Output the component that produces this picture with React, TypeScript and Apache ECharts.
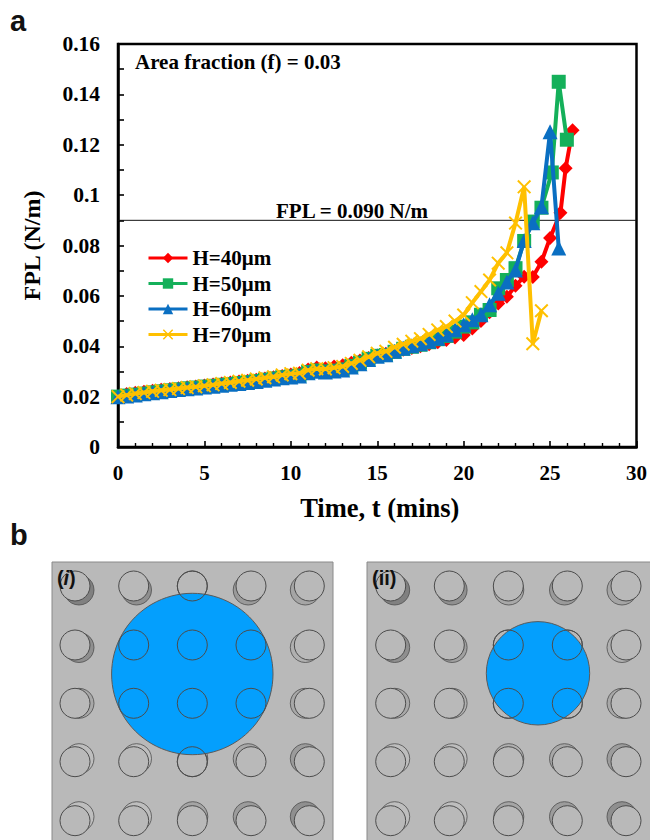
import React, { useEffect, useRef } from "react";
import * as echarts from "echarts";

const times = [0,0.5,1,1.5,2,2.5,3,3.5,4,4.5,5,5.5,6,6.5,7,7.5,8,8.5,9,9.5,10,10.5,11,11.5,12,12.5,13,13.5,14,14.5,15,15.5,16,16.5,17,17.5,18,18.5,19,19.5,20,20.5,21,21.5,22,22.5,23,23.5,24,24.5];
const tail40 = [25,25.6,25.9,26.3];
const tail50 = [25.1,25.5,25.97];
const tail60 = [25,25.5];
const tail70: number[] = [];
const h40 = [.0200,.0210,.0215,.0219,.0223,.0227,.0230,.0233,.0237,.0240,.0244,.0248,.0252,.0256,.0260,.0263,.0267,.0272,.0277,.0282,.0288,.0294,.0308,.0316,.0313,.0320,.0325,.0334,.0343,.0353,.0363,.0370,.0378,.0386,.0393,.0400,.0408,.0416,.0425,.0435,.0445,.0470,.0500,.0535,.0570,.0597,.0640,.0676,.0675,.0735,.0830,.0930,.1107,.1258];
const h50 = [.0200,.0204,.0208,.0212,.0217,.0221,.0225,.0229,.0233,.0236,.0240,.0243,.0247,.0250,.0254,.0258,.0262,.0267,.0272,.0277,.0280,.0284,.0298,.0304,.0300,.0303,.0308,.0322,.0335,.0350,.0362,.0365,.0378,.0390,.0398,.0406,.0416,.0428,.0441,.0458,.0478,.0495,.0525,.0544,.0630,.0663,.0710,.0818,.0895,.0950,.1090,.1450,.1220];
const h60 = [.0200,.0202,.0206,.0211,.0215,.0219,.0224,.0228,.0231,.0234,.0238,.0241,.0245,.0249,.0252,.0256,.0260,.0265,.0270,.0275,.0278,.0282,.0295,.0301,.0298,.0302,.0306,.0318,.0331,.0347,.0360,.0366,.0380,.0392,.0402,.0410,.0420,.0432,.0446,.0466,.0485,.0505,.0525,.0565,.0610,.0655,.0703,.0820,.0890,.0954,.1252,.0790];
const h70 = [.0200,.0206,.0212,.0216,.0221,.0225,.0228,.0232,.0236,.0239,.0243,.0247,.0252,.0256,.0261,.0265,.0270,.0275,.0279,.0286,.0291,.0293,.0305,.0311,.0310,.0315,.0320,.0332,.0344,.0358,.0372,.0380,.0396,.0408,.0420,.0430,.0447,.0465,.0478,.0500,.0524,.0573,.0617,.0663,.0730,.0771,.0889,.1033,.0410,.0541];
const threshold = 0.09;
const seriesNames = ["H=40μm","H=50μm","H=60μm","H=70μm"];
const colors = ["#fe0000","#14b05a","#0a6fc2","#ffc000"];
const pillarCols1 = [75,133.7,192.3,251,309.3];
const pillarCols2 = [390.7,449.3,508.3,567.3,626];
const pillarRows = [586,645,703.3,761.7,820.7];
const backDx = [4,2.8,0.5,-2.8,-4];
const backDy = [4,2.5,0,-3,-4];
const shadeRows = [
  ["#808080","#8f8f8f","#a8a8a8","#9a9a9a","#a5a5a5"],
  ["#8f8f8f","#a0a0a0","#b9b9b9","#b9b9b9","#b0b0b0"],
  ["#a8a8a8","#b0b0b0","#b9b9b9","#b9b9b9","#a8a8a8"],
  ["#bebebe","#bebebe","#b0b0b0","#a8a8a8","#9c9c9c"],
  ["#bebebe","#bebebe","#a5a5a5","#9c9c9c","#8f8f8f"],
];

const pairs = (t: number[], v: number[]) => t.map((x, i) => [x, v[i]]);
const serif = "'Liberation Serif', serif";
const sans = "'Liberation Sans', sans-serif";
const xMark = "path://M1,0 L5,4 L9,0 L10,1 L6,5 L10,9 L9,10 L5,6 L1,10 L0,9 L4,5 L0,1 Z";

const panel = (cols: number[], left: number, width: number, bx: number, by: number, br: number, label: string, lx: number, hidden: (c: number, r: number) => boolean, isItalic: boolean) => {
  const els: any[] = [{ type: "rect", shape: { x: left, y: 562, width, height: 290 }, style: { fill: "#b9b9b9", stroke: "#8a8a8a", lineWidth: 1 } }];
  const ring = "#4c4c4c";
  pillarRows.forEach((y, r) => cols.forEach((x, c) => {
    if (!hidden(c, r)) {
      els.push({ type: "circle", shape: { cx: x + backDx[c], cy: y + backDy[r], r: 15 }, style: { fill: shadeRows[r][c], stroke: ring, lineWidth: 0.8 } });
    }
    els.push({ type: "circle", shape: { cx: x, cy: y, r: 15 }, style: { fill: "#b9b9b9", stroke: ring, lineWidth: 1 } });
  }));
  els.push({ type: "circle", shape: { cx: bx, cy: by, r: br }, style: { fill: "#049ffd", stroke: "#5a5a5a", lineWidth: 1 } });
  pillarRows.forEach((y, r) => cols.forEach((x, c) => {
    const d = Math.hypot(x - bx, y - by);
    if (d < br + 15) els.push({ type: "circle", shape: { cx: x, cy: y, r: 15 }, style: { fill: "transparent", stroke: ring, lineWidth: 1 } });
  }));
  if (isItalic) {
    els.push({ type: "text", x: lx, y: 568, style: { text: "(", font: `bold 20px ${sans}`, fill: "#111" } });
    els.push({ type: "text", x: lx + 6.5, y: 568, style: { text: "i", font: `italic bold 20px ${sans}`, fill: "#111" } });
    els.push({ type: "text", x: lx + 12, y: 568, style: { text: ")", font: `bold 20px ${sans}`, fill: "#111" } });
  } else {
    els.push({ type: "text", x: lx, y: 568, style: { text: label, font: `bold 20px ${sans}`, fill: "#111" } });
  }
  return els;
};

export default function App() {
  const ref = useRef<HTMLDivElement>(null);
  useEffect(() => {
    const chart = echarts.init(ref.current!, undefined, { renderer: "svg" });
    const mk = (i: number, data: number[][], symbol: string, size: number) => ({
      name: seriesNames[i], type: "line", data, symbol, symbolSize: size, showSymbol: true,
      lineStyle: { color: colors[i], width: 4 },
      itemStyle: { color: colors[i] }, z: 3 + i,
    });
    chart.setOption({
      animation: false,
      backgroundColor: "#fff",
      grid: { left: 118, right: 13, top: 44, height: 403, show: true, borderColor: "#000", borderWidth: 2.5, backgroundColor: "transparent" },
      legend: {
        left: 147, top: 247.5, orient: "vertical", itemWidth: 39, itemHeight: 13, itemGap: 4.5, selectedMode: false,
        data: seriesNames,
        lineStyle: { width: 3 },
        textStyle: { fontFamily: serif, fontWeight: "bold", fontSize: 21, color: "#000" },
        padding: 0,
      },
      xAxis: {
        type: "value", min: 0, max: 30, interval: 5,
        name: "Time, t (mins)", nameLocation: "middle", nameGap: 47,
        nameTextStyle: { fontFamily: serif, fontWeight: "bold", fontSize: 26.5, color: "#000", padding: [0, 0, 0, 5] },
        axisLine: { show: true, lineStyle: { color: "#000", width: 2.5 } },
        axisTick: { show: true, inside: true, length: 6, lineStyle: { color: "#000", width: 1.6 } },
        minorTick: { show: true, splitNumber: 5, length: 4, lineStyle: { color: "#000", width: 1.4 } },
        splitLine: { show: false },
        axisLabel: { fontFamily: serif, fontWeight: "bold", fontSize: 21, color: "#000", margin: 15 },
      },
      yAxis: {
        type: "value", min: 0, max: 0.16, interval: 0.02,
        name: "FPL (N/m)", nameLocation: "middle", nameGap: 74,
        nameTextStyle: { fontFamily: serif, fontWeight: "bold", fontSize: 24, color: "#000" },
        axisLine: { show: true, lineStyle: { color: "#000", width: 2.5 } },
        axisTick: { show: true, inside: true, length: 6, lineStyle: { color: "#000", width: 1.6 } },
        minorTick: { show: true, splitNumber: 2, length: 6, lineStyle: { color: "#000", width: 1.6 } },
        splitLine: { show: false },
        axisLabel: { fontFamily: serif, fontWeight: "bold", fontSize: 21.5, color: "#000", margin: 18, formatter: (v: number) => String(+v.toFixed(2)) },
      },
      series: [
        { type: "line", silent: true, symbol: "none", data: [[0, threshold], [30, threshold]], lineStyle: { color: "#111", width: 1 }, z: 2, legendHoverLink: false },
        mk(0, pairs(times.slice(0, 50).concat(tail40), h40), "diamond", 14),
        mk(1, pairs(times.slice(0, 50).concat(tail50), h50), "rect", 14),
        mk(2, pairs(times.slice(0, 50).concat(tail60), h60), "triangle", 15),
        mk(3, pairs(times.concat(tail70), h70), xMark, 14),
      ],
      graphic: [
        { type: "text", x: 10, y: 6, style: { text: "a", font: `bold 29px ${sans}`, fill: "#111" } },
        { type: "text", x: 10, y: 520, style: { text: "b", font: `bold 29px ${sans}`, fill: "#111" } },
        { type: "text", x: 135, y: 51.5, style: { text: "Area fraction (f) = 0.03", font: `bold 21px ${serif}`, fill: "#000" } },
        { type: "text", x: 276, y: 200, style: { text: "FPL = 0.090 N/m", font: `bold 21px ${serif}`, fill: "#000" } },
        ...panel(pillarCols1, 52, 281, 192.3, 674, 80.7, "(i)", 57, (c, r) => (c >= 1 && c <= 3 && r >= 1 && r <= 2) || (c === 2 && r === 0), true),
        ...panel(pillarCols2, 367, 290, 538, 673.3, 51.7, "(ii)", 372, (c, r) => c >= 2 && c <= 3 && r >= 1 && r <= 2, false),
      ],
    });
    return () => chart.dispose();
  }, []);
  return <div ref={ref} style={{ position: "absolute", left: 0, top: 0, width: 650, height: 840, overflow: "hidden" }} />;
}
